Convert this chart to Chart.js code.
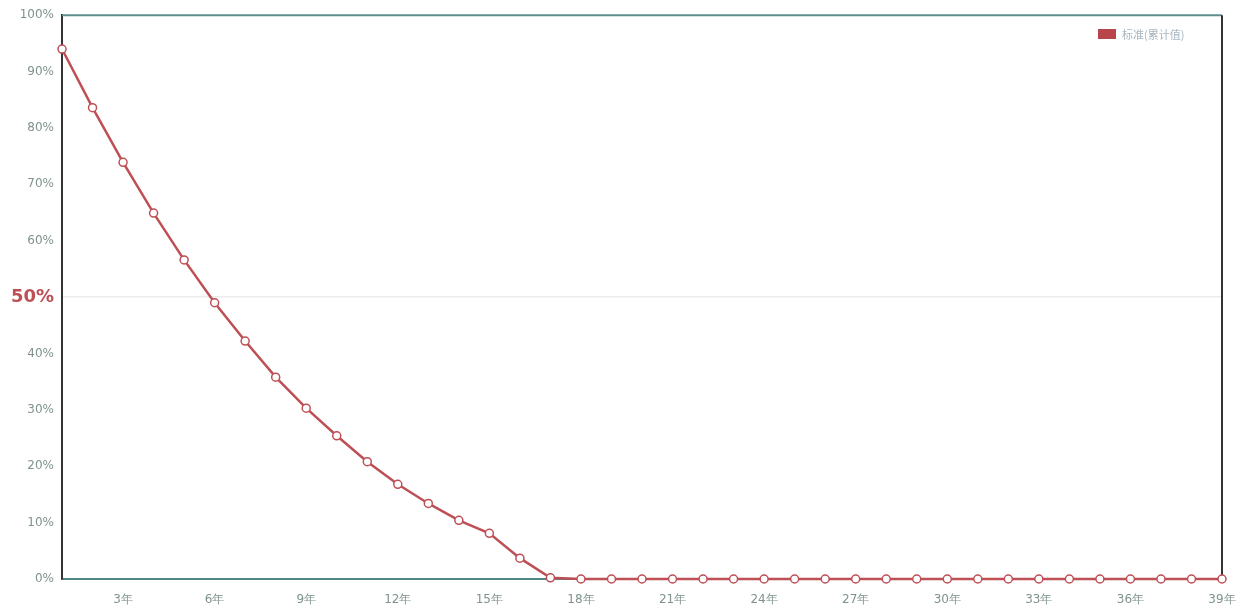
<!DOCTYPE html>
<html>
<head>
<meta charset="utf-8">
<script src="https://cdn.jsdelivr.net/npm/chart.js@4/dist/chart.umd.min.js"></script>
<style>
  html, body { margin:0; padding:0; background:#fff; }
  #wrap { position:relative; width:1250px; height:611px; }
  #legend { position:absolute; left:1098px; top:26px; font:11px "Noto Sans CJK SC", sans-serif; color:#a7b5c0; display:flex; align-items:center; }
  #legend span.box { display:inline-block; width:18px; height:10px; background:#b8444c; margin-right:6px; }
</style>
</head>
<body>
<div id="wrap">
  <canvas id="c" width="1250" height="611"></canvas>
  <div id="legend"><span class="box"></span>标准(累计值)</div>
</div>
<script>
/* ── Data ─────────────────────────────── */
const years  = Array.from({ length: 39 }, (_, i) => i + 1);
const labels = years.map(y => y + '年');
const values = [94.0, 83.6, 73.9, 64.9, 56.6, 49.0, 42.2, 35.8, 30.3, 25.4,
                20.8, 16.8, 13.4, 10.4, 8.1, 3.7, 0.2, 0, 0, 0,
                0, 0, 0, 0, 0, 0, 0, 0, 0, 0,
                0, 0, 0, 0, 0, 0, 0, 0, 0];
const yTicks = [0, 10, 20, 30, 40, 50, 60, 70, 80, 90, 100];

const RED  = '#bd4f55';
const GRAY = '#7f938b';
const is50 = c => !!(c && c.tick && c.tick.value === 50);

/* ── Frame (top + right borders) ──────── */
const frame = {
  id: 'frame',
  beforeDatasetsDraw(chart) {
    const { ctx, chartArea: a } = chart;
    ctx.save();
    ctx.lineWidth = 2;
    ctx.strokeStyle = '#5f8c8c';
    ctx.beginPath(); ctx.moveTo(a.left, a.top); ctx.lineTo(a.right, a.top); ctx.stroke();
    ctx.strokeStyle = '#333';
    ctx.beginPath(); ctx.moveTo(a.right, a.top); ctx.lineTo(a.right, a.bottom); ctx.stroke();
    ctx.restore();
  }
};

new Chart(document.getElementById('c'), {
  type: 'line',
  data: {
    labels,
    datasets: [{
      label: '标准(累计值)',
      data: values,
      borderColor: RED,
      borderWidth: 2.5,
      pointRadius: 4,
      pointBorderWidth: 1.5,
      pointBackgroundColor: '#fff',
      pointBorderColor: RED,
      tension: 0,
      clip: false,
    }],
  },
  options: {
    responsive: false,
    animation: false,
    layout: { padding: { top: 5, right: 28, left: 0, bottom: 0 } },
    plugins: { legend: { display: false }, tooltip: { enabled: false } },
    scales: {
      x: {
        offset: false,
        grid: { display: false },
        border: { color: '#4f8585', width: 2 },
        afterFit: s => { s.height = 32; },
        ticks: {
          autoSkip: false,
          maxRotation: 0,
          color: GRAY,
          font: { family: 'DejaVu Sans', size: 12 },
          padding: 6,
          callback: (v, i) => (years[i] % 3 === 0 ? labels[i] : ''),
        },
      },
      y: {
        min: 0, max: 100,
        afterFit: s => { s.width = 62; },
        afterBuildTicks: s => { s.ticks = yTicks.map(v => ({ value: v })); },
        border: { color: '#333', width: 2 },
        grid: {
          drawTicks: false,
          color: c => (is50(c) ? '#ececec' : 'rgba(0,0,0,0)'),
          lineWidth: 1.5,
        },
        ticks: {
          padding: 8,
          color: c => (is50(c) ? RED : GRAY),
          font: c => (is50(c)
            ? { family: 'DejaVu Sans', size: 18, weight: 'bold' }
            : { family: 'DejaVu Sans', size: 12 }),
          callback: v => v + '%',
        },
      },
    },
  },
  plugins: [frame],
});
</script>
</body>
</html>
